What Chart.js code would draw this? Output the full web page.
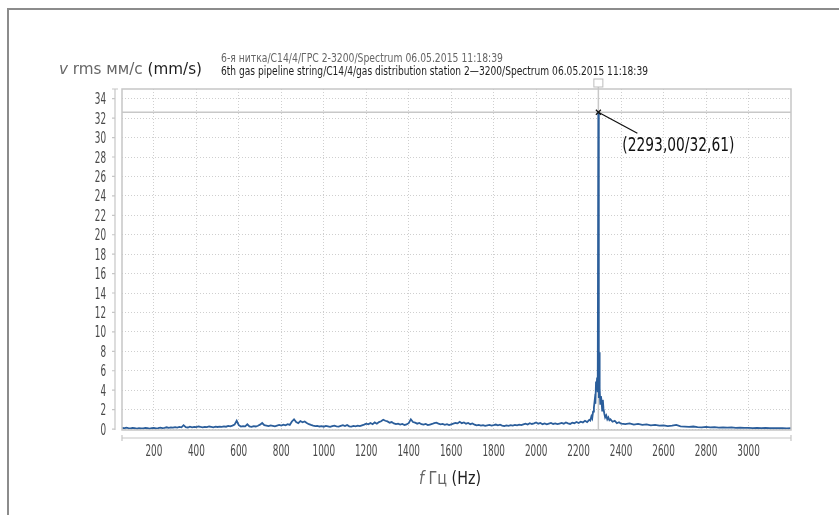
<!DOCTYPE html>
<html>
<head>
<meta charset="utf-8">
<script src="https://cdn.jsdelivr.net/npm/chart.js"></script>
<style>
body{margin:0;background:#fff;}
#wrap{position:relative;width:839px;height:515px;overflow:hidden;font-family:"DejaVu Sans",sans-serif;}
#frame{position:absolute;left:7px;top:8px;width:900px;height:600px;border:2px solid #8c8c8c;box-sizing:border-box;}
canvas{position:absolute;left:0;top:0;}
.t{position:absolute;white-space:nowrap;transform-origin:0 0;}
.g{color:#666;}
.k{color:#1e1e1e;}
i{font-style:italic;}
</style>
</head>
<body>
<div id="wrap">
<div id="frame"></div>
<canvas id="chart" width="839" height="515"></canvas>
<div class="t g fit" data-w="282" style="left:221px;top:51.5px;font-size:12px;line-height:12px;">6-я нитка/С14/4/ГРС 2-3200/Spectrum 06.05.2015 11:18:39</div>
<div class="t k fit" data-w="427" style="left:221px;top:64.5px;font-size:12px;line-height:12px;">6th gas pipeline string/C14/4/gas distribution station 2—3200/Spectrum 06.05.2015 11:18:39</div>
<div class="t fit" data-w="143" style="left:59px;top:61px;font-size:16px;line-height:16px;"><span class="g"><i>v</i> rms мм/с</span> <span class="k">(mm/s)</span></div>
<div class="t fit" data-w="62" style="left:419px;top:470px;font-size:17px;line-height:17px;"><span class="g"><i>f</i> Гц</span> <span class="k">(Hz)</span></div>
</div>
<script>
// spectrum
const freqHz = [
50,60,70,80,90,100,110,120,130,140,
150,160,170,180,190,200,210,220,230,240,
250,260,270,280,290,300,310,320,330,340,
350,360,370,380,390,400,410,420,430,440,
450,460,470,480,490,500,510,520,530,540,
550,560,570,580,590,600,610,620,630,640,
650,660,670,680,690,700,710,720,730,740,
750,760,770,780,790,800,810,820,830,840,
850,860,870,880,890,900,910,920,930,940,
950,960,970,980,990,1000,1010,1020,1030,1040,
1050,1060,1070,1080,1090,1100,1110,1120,1130,1140,
1150,1160,1170,1180,1190,1200,1210,1220,1230,1240,
1250,1260,1270,1280,1290,1300,1310,1320,1330,1340,
1350,1360,1370,1380,1390,1400,1410,1420,1430,1440,
1450,1460,1470,1480,1490,1500,1510,1520,1530,1540,
1550,1560,1570,1580,1590,1600,1610,1620,1630,1640,
1650,1660,1670,1680,1690,1700,1710,1720,1730,1740,
1750,1760,1770,1780,1790,1800,1810,1820,1830,1840,
1850,1860,1870,1880,1890,1900,1910,1920,1930,1940,
1950,1960,1970,1980,1990,2000,2010,2020,2030,2040,
2050,2060,2070,2080,2090,2100,2110,2120,2130,2140,
2150,2160,2170,2180,2190,2200,2210,2220,2230,2240,
2250,2255,2260,2264,2268,2272,2276,2279,2282,2285,
2287,2289,2291,2293,2295,2297,2299,2302,2305,2308,
2311,2314,2317,2321,2325,2330,2335,2340,2345,2350,
2360,2370,2380,2390,2400,2420,2440,2460,2480,2500,
2520,2540,2560,2580,2600,2620,2640,2660,2680,2700,
2720,2740,2760,2780,2800,2820,2840,2860,2880,2900,
2920,2940,2960,2980,3000,3020,3040,3060,3080,3100,
3120,3140,3160,3180,3200
];
const vrms = [
.12,.08,.15,.10,.06,.12,.09,.05,.10,.07,
.06,.11,.08,.05,.09,.12,.07,.10,.14,.09,
.13,.18,.12,.16,.14,.20,.15,.22,.17,.40,
.20,.16,.24,.18,.22,.19,.26,.21,.17,.23,
.20,.26,.22,.18,.24,.21,.25,.22,.28,.24,
.32,.27,.35,.45,.85,.40,.25,.30,.28,.48,
.26,.22,.30,.26,.34,.45,.62,.40,.35,.30,
.38,.33,.28,.36,.42,.35,.45,.38,.50,.42,
.78,1.0,.72,.60,.82,.70,.78,.62,.50,.42,
.35,.30,.33,.26,.30,.24,.32,.27,.22,.30,
.35,.28,.25,.33,.40,.30,.42,.28,.25,.32,
.27,.35,.30,.38,.45,.55,.48,.62,.50,.68,
.55,.72,.80,.95,.85,.78,.65,.72,.58,.50,
.55,.45,.52,.42,.48,.60,1.0,.72,.65,.55,
.62,.50,.45,.52,.40,.46,.52,.60,.65,.55,
.48,.52,.44,.50,.40,.48,.55,.62,.58,.75,
.60,.68,.55,.62,.50,.58,.45,.38,.42,.35,
.40,.33,.38,.42,.36,.40,.46,.38,.44,.36,
.30,.38,.33,.40,.35,.42,.37,.45,.40,.48,
.55,.46,.60,.52,.58,.68,.55,.62,.50,.58,
.48,.55,.62,.52,.58,.50,.56,.62,.55,.68,
.58,.52,.65,.60,.72,.62,.75,.68,.85,.72,
.95,.88,1.3,1.1,1.8,2.2,3.0,2.6,4.9,4.4,
5.3,3.8,4.6,32.61,3.2,7.9,4.2,2.6,3.4,2.9,
1.9,3.0,2.1,1.6,1.2,1.4,1.0,1.2,.90,1.0,
.75,.85,.60,.70,.55,.50,.58,.45,.52,.42,
.48,.38,.42,.35,.38,.30,.34,.42,.28,.25,
.22,.26,.20,.18,.22,.17,.20,.15,.18,.14,
.16,.12,.14,.11,.12,.10,.12,.09,.11,.08,
.10,.08,.09,.07,.08
];
const xTicks = [200,400,600,800,1000,1200,1400,1600,1800,2000,2200,2400,2600,2800,3000];
const yTicks = [0,2,4,6,8,10,12,14,16,18,20,22,24,26,28,30,32,34];
const peakHz = 2293.00;
const peakV = 32.61;
const peakLabel = "(2293,00/32,61)";

const FONT = '"DejaVu Sans",sans-serif';
const GRID = "#cfcfcf";
const AXIS = "#c6c6c6";

// condensed look: squeeze text horizontally to the width seen in the picture
document.querySelectorAll(".fit").forEach(el => {
  const w = el.getBoundingClientRect().width;
  el.style.transform = "scaleX(" + (el.dataset.w / w) + ")";
});

function squeezed(ctx, text, x, y, sx, align){
  ctx.save();
  ctx.translate(x, y);
  ctx.scale(sx, 1);
  ctx.textAlign = align;
  ctx.textBaseline = "alphabetic";
  ctx.fillText(text, 0, 0);
  ctx.restore();
}

const overlay = {
  id: "overlay",
  beforeDatasetsDraw(chart){
    const {ctx, chartArea:a, scales:{x, y}} = chart;
    const px = x.getPixelForValue(peakHz), py = y.getPixelForValue(peakV);
    ctx.save();
    ctx.strokeStyle = "#c8c8c8";
    ctx.lineWidth = 1.5;
    ctx.beginPath();
    ctx.moveTo(a.left, py); ctx.lineTo(a.right, py);
    ctx.moveTo(px, a.top - 2); ctx.lineTo(px, a.bottom);
    ctx.stroke();
    ctx.restore();
  },
  afterDraw(chart){
    const {ctx, chartArea:a, scales:{x, y}} = chart;
    const px = x.getPixelForValue(peakHz), py = y.getPixelForValue(peakV);
    ctx.save();
    // plot frame
    ctx.strokeStyle = AXIS;
    ctx.lineWidth = 1.5;
    ctx.strokeRect(a.left, a.top, a.right - a.left, a.bottom - a.top);
    // detached y axis
    const ax = a.left - 7;
    ctx.lineWidth = 1.2;
    ctx.beginPath();
    ctx.moveTo(ax, a.top); ctx.lineTo(ax, a.bottom);
    ctx.moveTo(ax - 3, a.top); ctx.lineTo(ax + 3, a.top);
    yTicks.forEach(v => {
      const ty = y.getPixelForValue(v);
      ctx.moveTo(ax - 3, ty); ctx.lineTo(ax, ty);
    });
    // detached x axis
    const ay = a.bottom + 8;
    ctx.moveTo(a.left, ay); ctx.lineTo(a.right, ay);
    ctx.moveTo(a.left, ay - 3); ctx.lineTo(a.left, ay + 3);
    ctx.moveTo(a.right, ay - 3); ctx.lineTo(a.right, ay + 3);
    ctx.stroke();

    // tick labels
    ctx.fillStyle = "#484848";
    ctx.font = "15px " + FONT;
    const sx = 22.5 / ctx.measureText("2000").width;
    xTicks.forEach(v => squeezed(ctx, String(v), x.getPixelForValue(v), a.bottom + 25.5, sx, "center"));
    yTicks.forEach(v => squeezed(ctx, String(v), ax - 9, y.getPixelForValue(v) + 5.5, sx, "right"));

    // cursor square
    ctx.strokeStyle = "#bdbdbd";
    ctx.fillStyle = "#fff";
    ctx.lineWidth = 1;
    ctx.fillRect(px - 4.5, a.top - 10, 9, 8);
    ctx.strokeRect(px - 4.5, a.top - 10, 9, 8);
    // marker and leader
    ctx.strokeStyle = "#111";
    ctx.lineWidth = 1.2;
    ctx.beginPath();
    ctx.moveTo(px - 2.5, py - 2.5); ctx.lineTo(px + 2.5, py + 2.5);
    ctx.moveTo(px - 2.5, py + 2.5); ctx.lineTo(px + 2.5, py - 2.5);
    ctx.moveTo(px, py); ctx.lineTo(px + 39, py + 21);
    ctx.stroke();
    ctx.fillStyle = "#111";
    ctx.font = "20px " + FONT;
    const lx = 112 / ctx.measureText(peakLabel).width;
    squeezed(ctx, peakLabel, px + 24, py + 38.7, lx, "left");
    ctx.restore();
  }
};

new Chart(document.getElementById("chart"), {
  type: "line",
  data: {
    datasets: [{
      data: freqHz.map((f, i) => ({x: f, y: vrms[i]})),
      borderColor: "#2b5e9b",
      borderWidth: 1.8,
      pointRadius: 0,
      tension: 0,
      fill: false
    }]
  },
  options: {
    responsive: false,
    animation: false,
    devicePixelRatio: 1,
    layout: {padding: {left: 0, top: 89, right: 48, bottom: 0}},
    plugins: {legend: {display: false}, tooltip: {enabled: false}},
    scales: {
      x: {
        type: "linear",
        min: 50, max: 3200,
        afterBuildTicks: s => { s.ticks = xTicks.map(v => ({value: v})); },
        afterFit: s => { s.height = 85; },
        grid: {color: GRID, lineWidth: 1, drawTicks: false},
        border: {display: false, dash: [1, 2]},
        ticks: {display: false}
      },
      y: {
        min: -0.1, max: 35,
        afterBuildTicks: s => { s.ticks = yTicks.map(v => ({value: v})); },
        afterFit: s => { s.width = 122; },
        grid: {color: GRID, lineWidth: 1, drawTicks: false},
        border: {display: false, dash: [1, 2]},
        ticks: {display: false}
      }
    }
  },
  plugins: [overlay]
});
</script>
</body>
</html>
